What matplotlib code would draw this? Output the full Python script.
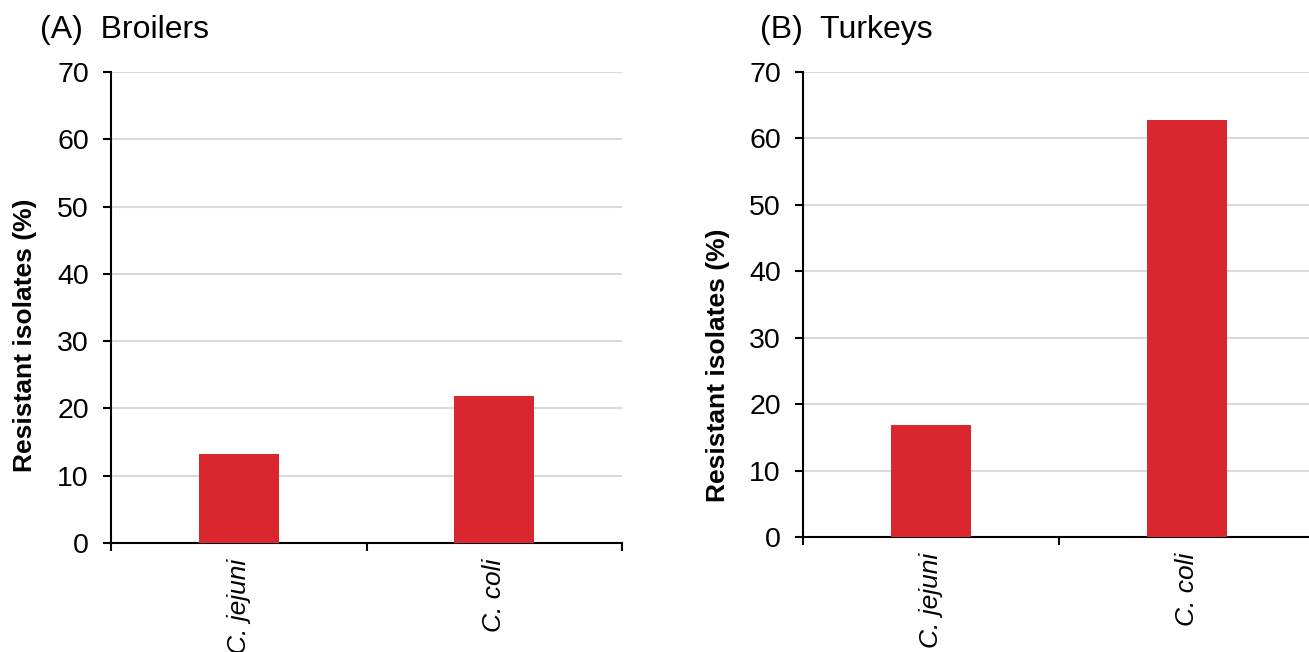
import matplotlib.pyplot as plt

plt.rcParams['font.family'] = ['Liberation Sans', 'DejaVu Sans']

species = ['C. jejuni', 'C. coli']
broilers = [13.3, 21.9]
turkeys = [16.9, 62.7]
panel_titles = ['(A)  Broilers', '(B)  Turkeys']
y_ticks = [0, 10, 20, 30, 40, 50, 60, 70]

bar_color = '#D9262F'
grid_color = '#D9D9D9'

W, H = 1309, 652
fig = plt.figure(figsize=(W / 100, H / 100), dpi=100)


def px_axes(x0, x1, top, bottom):
    return fig.add_axes([x0 / W, 1 - bottom / H, (x1 - x0) / W, (bottom - top) / H])


def panel(ax, values):
    pos = list(range(len(species)))
    ax.bar(pos, values, width=0.3125, color=bar_color, zorder=3)
    ax.set_xlim(-0.5, len(species) - 0.5)
    ax.set_ylim(0, 70)
    ax.set_yticks(y_ticks)
    ax.set_yticklabels([str(t) for t in y_ticks], fontsize=20.5)
    ax.yaxis.grid(True, color=grid_color, linewidth=1.5, zorder=0)
    ax.set_axisbelow(True)
    # category ticks sit between the bars, labels at the bar centres
    ax.set_xticks([-0.5, 0.5, 1.5])
    ax.set_xticklabels([])
    ax.set_xticks(pos, minor=True)
    ax.set_xticklabels(species, minor=True, rotation=90, style='italic', fontsize=19)
    ax.tick_params(axis='x', which='minor', length=0, pad=11)
    ax.tick_params(axis='x', which='major', length=5.5, width=1.5, direction='out')
    ax.tick_params(axis='y', length=5.5, width=1.5, direction='out', pad=10.5)
    for s in ['top', 'right']:
        ax.spines[s].set_visible(False)
    for s in ['left', 'bottom']:
        ax.spines[s].set_linewidth(1.5)
        ax.spines[s].set_color('black')


ax1 = px_axes(111, 622, 72, 543)
ax2 = px_axes(803, 1315, 72, 537)
panel(ax1, broilers)
panel(ax2, turkeys)

fig.text(40 / W, 1 - 30 / H, panel_titles[0], fontsize=23, va='center', ha='left')
fig.text(760 / W, 1 - 30 / H, panel_titles[1], fontsize=23, va='center', ha='left')
fig.text(25 / W, 1 - 335 / H, 'Resistant isolates (%)', rotation=90, fontsize=19,
         fontweight='bold', va='center', ha='center')
fig.text(718 / W, 1 - 365 / H, 'Resistant isolates (%)', rotation=90, fontsize=19,
         fontweight='bold', va='center', ha='center')

fig.savefig('out.png', dpi=100)
